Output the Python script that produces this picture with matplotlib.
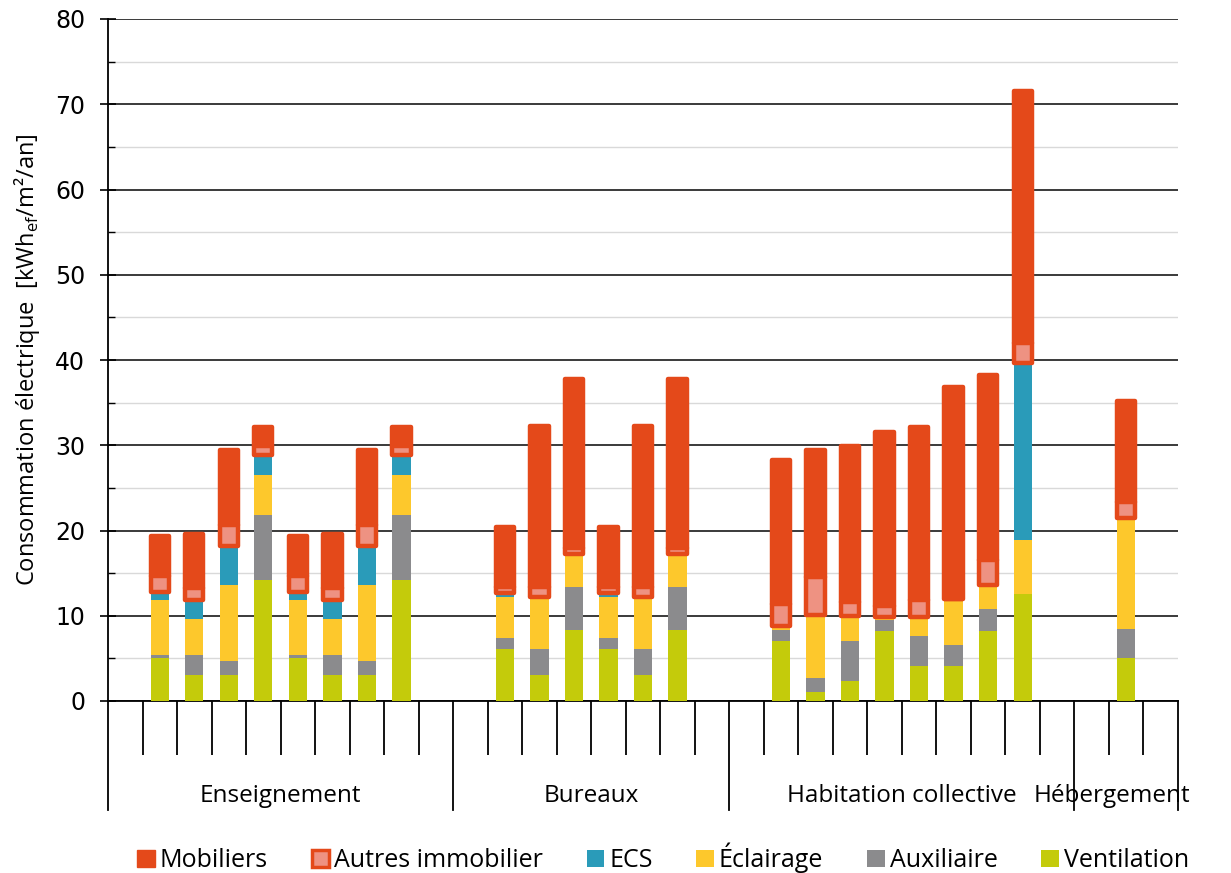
import numpy as np
import matplotlib
matplotlib.use("Agg")
import matplotlib.pyplot as plt
from matplotlib.patches import Patch

plt.rcParams['font.family'] = ['Open Sans', 'DejaVu Sans']
plt.rcParams['mathtext.fontset'] = 'custom'
plt.rcParams['mathtext.rm'] = 'Open Sans'

# groups of buildings, one empty slot each side of a group
groups = ['Enseignement', 'Bureaux', 'Habitation collective', 'Hébergement']
n_bars = [8, 6, 8, 1]

# segment heights, bottom to top (kWh_ef/m²/an)
ventilation = [5.0, 3.1, 3.0, 14.2, 5.0, 3.1, 3.0, 14.2,
               6.1, 3.0, 8.3, 6.1, 3.0, 8.3,
               7.0, 1.1, 2.3, 8.2, 4.1, 4.1, 8.2, 12.6,
               5.05]
auxiliaire = [0.4, 2.3, 1.7, 7.6, 0.4, 2.3, 1.7, 7.6,
              1.3, 3.1, 5.1, 1.3, 3.1, 5.1,
              1.3, 1.6, 4.7, 1.3, 3.5, 2.5, 2.6, 0.0,
              3.45]
eclairage = [6.45, 4.2, 8.9, 4.7, 6.45, 4.2, 8.9, 4.7,
             4.8, 6.1, 3.9, 4.8, 6.1, 3.9,
             0.5, 7.4, 3.0, 0.3, 2.3, 5.4, 2.8, 6.3,
             13.0]
ecs = [0.95, 2.25, 4.6, 2.4, 0.95, 2.25, 4.6, 2.4,
       0.5, 0.0, 0.0, 0.5, 0.0, 0.0,
       0.0, 0.0, 0.0, 0.0, 0.0, 0.0, 0.0, 20.7,
       0.0]
autres = [1.9, 1.45, 2.4, 1.05, 1.9, 1.45, 2.4, 1.05,
          0.7, 1.2, 0.7, 0.7, 1.2, 0.7,
          2.6, 4.5, 1.6, 1.4, 2.0, 0.0, 2.9, 2.4,
          1.8]
mobiliers = [4.6, 6.3, 8.9, 2.15, 4.6, 6.3, 8.9, 2.15,
             7.0, 18.9, 19.8, 7.0, 18.9, 19.8,
             16.9, 14.9, 18.3, 20.3, 20.2, 24.8, 21.7, 29.5,
             11.9]

c_vent = '#C4CB0B'
c_aux = '#8B8B8D'
c_ecl = '#FDC82C'
c_ecs = '#2A9BB9'
c_mob = '#E4491A'
c_aut = '#EE9282'

# slot positions
pos = []
bounds = [-0.5]
start = 0
for n in n_bars:
    pos += list(range(start + 1, start + 1 + n))
    start += n + 2
    bounds.append(start - 0.5)
pos = np.array(pos)
n_slots = start

fig = plt.figure(figsize=(12.31, 8.73), dpi=100)
ax = fig.add_axes([108/1231, 1 - 701/873, 1070/1231, 682/873])

w = 0.53
bottom = np.zeros(len(pos))
for vals, col in [(ventilation, c_vent), (auxiliaire, c_aux), (eclairage, c_ecl), (ecs, c_ecs)]:
    ax.bar(pos, vals, w, bottom=bottom, color=col, linewidth=0, zorder=3)
    bottom += np.array(vals)
b_aut = bottom.copy()
bottom += np.array(autres)
ax.bar(pos, mobiliers, w, bottom=bottom, color=c_mob, edgecolor=c_mob,
       linewidth=3.2, joinstyle='round', zorder=3)
ax.bar(pos, autres, w, bottom=b_aut, color=c_aut, edgecolor=c_mob,
       linewidth=3.2, joinstyle='round', zorder=4)

ax.set_xlim(-0.5, n_slots - 0.5)
ax.set_ylim(0, 80)
ax.set_yticks(np.arange(0, 81, 10))
ax.set_yticks(np.arange(5, 80, 10), minor=True)
ax.grid(axis='y', which='major', color='#3A3A3A', linewidth=1.4, zorder=1)
ax.grid(axis='y', which='minor', color='#D9D9D9', linewidth=1.0, zorder=1)
ax.tick_params(axis='y', which='major', direction='inout', length=11, width=1.2,
               labelsize=17, pad=11)
ax.tick_params(axis='y', which='minor', direction='in', length=5, width=1.0)
for lab in ax.get_yticklabels():
    lab.set_family('DejaVu Sans')

# category ticks between slots
inner = [b for b in np.arange(0.5, n_slots - 1, 1.0) if b not in bounds]
ax.set_xticks(inner)
ax.set_xticklabels([])
ax.tick_params(axis='x', direction='out', length=39, width=1.3, color='black')

for s in ['top', 'right']:
    ax.spines[s].set_visible(False)
ax.spines['bottom'].set_linewidth(1.3)
ax.spines['left'].set_linewidth(1.3)

trans = ax.get_xaxis_transform()
for b in bounds:
    ax.plot([b, b], [0, -109/682], color='black', linewidth=1.3,
            transform=trans, clip_on=False)

k = 0
for g, n in zip(groups, n_bars):
    ctr = k + (n + 1) / 2
    if g == 'Hébergement':
        ctr -= 0.4
    ax.text(ctr, -95/682, g, transform=trans, ha='center', va='center',
            fontsize=17.5)
    k += n + 2

ax.set_ylabel('Consommation électrique  [kWh$_{\\mathrm{ef}}$/m²/an]',
              fontsize=17, labelpad=9)

handles = [Patch(facecolor=c_mob, edgecolor=c_mob),
           Patch(facecolor=c_aut, edgecolor=c_mob, linewidth=2.5),
           Patch(facecolor=c_ecs), Patch(facecolor=c_ecl),
           Patch(facecolor=c_aux), Patch(facecolor=c_vent)]
labels = ['Mobiliers', 'Autres immobilier', 'ECS', 'Éclairage', 'Auxiliaire', 'Ventilation']
fig.legend(handles, labels, loc='center', bbox_to_anchor=(663/1231, 1 - 858/873),
           ncol=6, frameon=False, fontsize=18, handlelength=0.7, handleheight=0.7,
           handletextpad=0.2, columnspacing=1.75)

fig.savefig('out.png', dpi=100)
